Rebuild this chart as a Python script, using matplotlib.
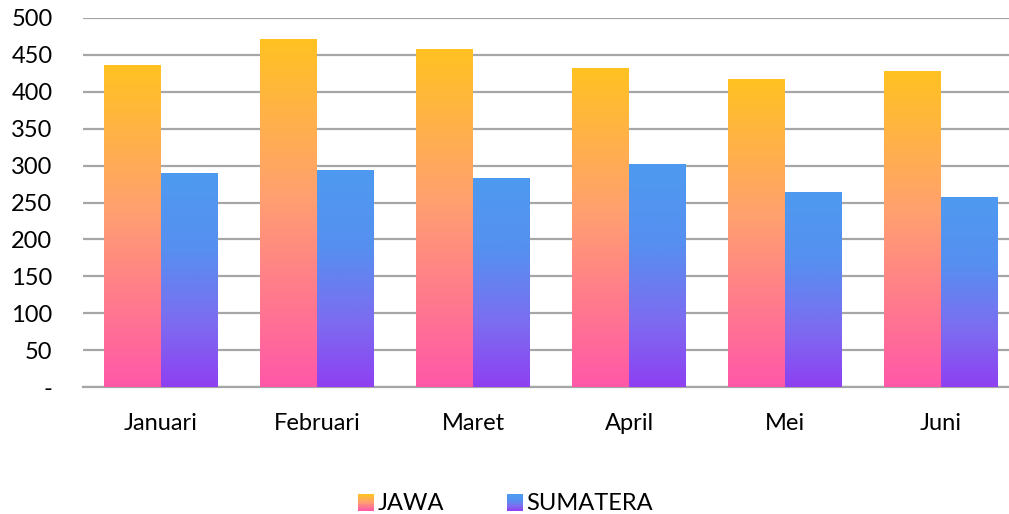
import numpy as np
import matplotlib.pyplot as plt
from matplotlib.colors import LinearSegmentedColormap
from matplotlib.legend_handler import HandlerBase
from matplotlib.patches import Rectangle

# =========================
# DATA
# =========================
months = ["Januari", "Februari", "Maret", "April", "Mei", "Juni"]
jawa = [436, 471, 457, 431, 416, 428]
sumatera = [289, 293, 283, 301, 264, 257]
y_ticks = [0, 50, 100, 150, 200, 250, 300, 350, 400, 450, 500]
y_labels = ["-", "50", "100", "150", "200", "250", "300", "350", "400", "450", "500"]

# gradients (top -> bottom)
cmap_jawa = LinearSegmentedColormap.from_list(
    "jawa", [(0, "#FFC222"), (0.45, "#FFA070"), (1, "#FF58A8")])
cmap_sum = LinearSegmentedColormap.from_list(
    "sum", [(0, "#4E9AF0"), (0.35, "#5690F0"), (0.7, "#7D6CF0"), (1, "#8E40F2")])

plt.rcParams['font.family'] = ['Lato', 'DejaVu Sans']

fig = plt.figure(figsize=(10.09, 5.14), dpi=100)
# plot area runs a bit past the right edge of the picture
ax = fig.add_axes([83 / 1009, 127 / 514, 936 / 1009, 369 / 514])

x = np.arange(len(months))
w = 0.365

bars_j = ax.bar(x - w / 2, jawa, w, color="none", zorder=3)
bars_s = ax.bar(x + w / 2, sumatera, w, color="none", zorder=3)

grad = np.linspace(0, 1, 256).reshape(-1, 1)


def fill_gradient(bars, cmap):
    for b in bars:
        x0, y0 = b.get_x(), b.get_y()
        x1, y1 = x0 + b.get_width(), y0 + b.get_height()
        ax.imshow(grad, cmap=cmap, aspect="auto", extent=(x0, x1, y0, y1),
                  origin="upper", zorder=3, interpolation="bilinear")


fill_gradient(bars_j, cmap_jawa)
fill_gradient(bars_s, cmap_sum)

ax.set_xlim(-0.5, len(months) - 0.5)
ax.set_ylim(0, 500)
ax.set_yticks(y_ticks)
ax.set_yticklabels(y_labels, fontsize=17)
ax.set_xticks(x)
ax.set_xticklabels(months, fontsize=17)
ax.tick_params(axis="y", length=0, pad=22)
ax.tick_params(axis="x", length=0, pad=19)

ax.grid(axis="y", color="#A6A6A6", linewidth=1.6, zorder=0)
for s in ["top", "right", "left"]:
    ax.spines[s].set_visible(False)
ax.spines["bottom"].set_color("#A6A6A6")
ax.spines["bottom"].set_linewidth(1.6)


# legend with gradient swatches
class GradHandler(HandlerBase):
    def __init__(self, cmap):
        super().__init__()
        self.cmap = cmap

    def create_artists(self, legend, orig_handle, xdescent, ydescent,
                       width, height, fontsize, trans):
        n = 20
        size = 11.5
        x0 = width - size
        y0 = -ydescent + (height - size) / 2 - 1
        arts = []
        for i in range(n):
            c = self.cmap(1 - (i + 0.5) / n)
            r = Rectangle((x0, y0 + i * size / n), size, size / n + 0.3,
                          facecolor=c, edgecolor="none", transform=trans)
            arts.append(r)
        return arts


h1 = Rectangle((0, 0), 1, 1)
h2 = Rectangle((0, 0), 1, 1)
fig.legend([h1, h2], ["JAWA", "SUMATERA"],
           handler_map={h1: GradHandler(cmap_jawa), h2: GradHandler(cmap_sum)},
           loc="center", bbox_to_anchor=(0.5, 0.021), ncol=2, frameon=False,
           fontsize=17, handlelength=0.75, handletextpad=0.15, columnspacing=2.6)

fig.savefig("out.png", dpi=100)
